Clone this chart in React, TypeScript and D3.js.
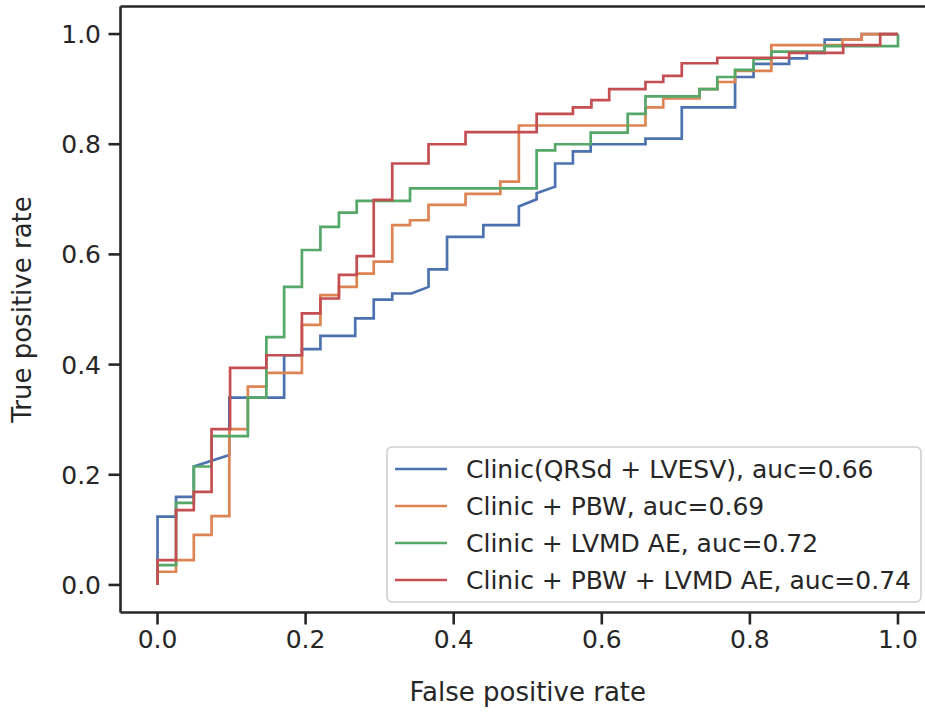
import React from "react";
import * as d3 from "d3";

const W = 925;
const H = 713;

const seriesNames = [
  "Clinic(QRSd + LVESV), auc=0.66",
  "Clinic + PBW, auc=0.69",
  "Clinic + LVMD AE, auc=0.72",
  "Clinic + PBW + LVMD AE, auc=0.74",
];
const seriesColors = ["#4C72B0", "#DD8452", "#55A868", "#C44E52"];

const clinicRoc: [number, number][] = [
  [0, 0], [0, 0.124], [0.025, 0.124], [0.025, 0.16], [0.049, 0.16], [0.049, 0.215],
  [0.097, 0.236], [0.097, 0.34], [0.171, 0.34], [0.171, 0.417], [0.195, 0.417],
  [0.195, 0.428], [0.22, 0.428], [0.22, 0.452], [0.267, 0.452], [0.267, 0.484],
  [0.292, 0.484], [0.292, 0.518], [0.317, 0.518], [0.317, 0.529], [0.343, 0.529],
  [0.366, 0.541], [0.366, 0.573], [0.391, 0.573], [0.391, 0.632], [0.44, 0.632],
  [0.44, 0.653], [0.488, 0.653], [0.488, 0.687], [0.512, 0.7], [0.512, 0.711],
  [0.537, 0.723], [0.537, 0.765], [0.561, 0.765], [0.561, 0.787], [0.585, 0.787],
  [0.585, 0.8], [0.659, 0.8], [0.659, 0.81], [0.708, 0.81], [0.708, 0.867],
  [0.78, 0.867], [0.78, 0.922], [0.805, 0.922], [0.805, 0.946], [0.853, 0.946],
  [0.853, 0.956], [0.877, 0.956], [0.877, 0.966], [0.901, 0.966], [0.901, 0.99],
  [0.951, 0.99], [0.951, 1.0], [1, 1],
];

const pbwRoc: [number, number][] = [
  [0, 0], [0, 0.024], [0.025, 0.024], [0.025, 0.045], [0.049, 0.045], [0.049, 0.091],
  [0.073, 0.091], [0.073, 0.125], [0.097, 0.125], [0.097, 0.283], [0.122, 0.283],
  [0.122, 0.36], [0.147, 0.36], [0.147, 0.385], [0.195, 0.385], [0.195, 0.472],
  [0.22, 0.472], [0.22, 0.526], [0.245, 0.526], [0.245, 0.541], [0.269, 0.541],
  [0.269, 0.565], [0.292, 0.565], [0.292, 0.587], [0.317, 0.587], [0.317, 0.653],
  [0.341, 0.653], [0.341, 0.662], [0.366, 0.662], [0.366, 0.69], [0.416, 0.69],
  [0.416, 0.71], [0.463, 0.71], [0.463, 0.732], [0.488, 0.732], [0.488, 0.834],
  [0.659, 0.834], [0.659, 0.867], [0.683, 0.867], [0.683, 0.883], [0.732, 0.883],
  [0.732, 0.9], [0.756, 0.9], [0.756, 0.913], [0.78, 0.913], [0.78, 0.933],
  [0.829, 0.933], [0.829, 0.98], [0.925, 0.98], [0.925, 0.99], [0.951, 0.99],
  [0.951, 1.0], [1, 1],
];

const lvmdRoc: [number, number][] = [
  [0, 0], [0, 0.036], [0.025, 0.036], [0.025, 0.149], [0.049, 0.149], [0.049, 0.215],
  [0.073, 0.215], [0.073, 0.27], [0.122, 0.27], [0.122, 0.34], [0.147, 0.34],
  [0.147, 0.45], [0.171, 0.45], [0.171, 0.541], [0.195, 0.541], [0.195, 0.608],
  [0.22, 0.608], [0.22, 0.65], [0.245, 0.65], [0.245, 0.676], [0.269, 0.676],
  [0.269, 0.697], [0.341, 0.697], [0.341, 0.72], [0.512, 0.72], [0.512, 0.789],
  [0.537, 0.789], [0.537, 0.8], [0.585, 0.8], [0.585, 0.821], [0.635, 0.821],
  [0.635, 0.855], [0.659, 0.855], [0.659, 0.887], [0.732, 0.887], [0.732, 0.9],
  [0.756, 0.9], [0.756, 0.922], [0.78, 0.922], [0.78, 0.935], [0.805, 0.935],
  [0.805, 0.955], [0.829, 0.955], [0.829, 0.968], [0.901, 0.968], [0.901, 0.978],
  [1, 0.978], [1, 1],
];

const pbwLvmdRoc: [number, number][] = [
  [0, 0], [0, 0.045], [0.025, 0.045], [0.025, 0.136], [0.049, 0.136], [0.049, 0.169],
  [0.073, 0.169], [0.073, 0.283], [0.098, 0.283], [0.098, 0.394], [0.147, 0.394],
  [0.147, 0.417], [0.195, 0.417], [0.195, 0.493], [0.22, 0.493], [0.22, 0.52],
  [0.245, 0.52], [0.245, 0.563], [0.269, 0.563], [0.269, 0.597], [0.292, 0.597],
  [0.292, 0.699], [0.317, 0.699], [0.317, 0.765], [0.366, 0.765], [0.366, 0.8],
  [0.416, 0.8], [0.416, 0.822], [0.512, 0.822], [0.512, 0.855], [0.561, 0.855],
  [0.561, 0.867], [0.586, 0.867], [0.586, 0.88], [0.61, 0.88], [0.61, 0.9],
  [0.659, 0.9], [0.659, 0.913], [0.683, 0.913], [0.683, 0.924], [0.708, 0.924],
  [0.708, 0.947], [0.756, 0.947], [0.756, 0.957], [0.853, 0.957], [0.853, 0.966],
  [0.926, 0.966], [0.926, 0.98], [0.976, 0.98], [0.976, 1.0], [1, 1],
];

const allSeries = [clinicRoc, pbwRoc, lvmdRoc, pbwLvmdRoc];
const tickValues = [0, 0.2, 0.4, 0.6, 0.8, 1.0];

const INK = "#262626";
const FONT = "'DejaVu Sans', sans-serif";

export default function App() {
  const x = d3.scaleLinear().domain([-0.05, 1.05]).range([120.5, 935]);
  const y = d3.scaleLinear().domain([-0.05, 1.05]).range([612.5, 6.5]);
  const line = d3
    .line<[number, number]>()
    .x((d) => x(d[0]))
    .y((d) => y(d[1]));

  const left = x(-0.05);
  const right = x(1.05);
  const top = y(1.05);
  const bottom = y(-0.05);

  const legX = 387;
  const legY = 447;
  const legW = 534;
  const legH = 155;
  const rowY = [469, 506, 543, 580];

  return (
    <svg
      width={W}
      height={H}
      style={{ position: "absolute", left: 0, top: 0, background: "#fff" }}
      fontFamily={FONT}
    >
      <rect x={0} y={0} width={W} height={H} fill="#fff" />
      <defs>
        <clipPath id="plotclip">
          <rect x={left} y={top} width={right - left} height={bottom - top} />
        </clipPath>
      </defs>
      <g clipPath="url(#plotclip)">
        {allSeries.map((s, i) => (
          <path
            key={i}
            d={line(s) || ""}
            fill="none"
            stroke={seriesColors[i]}
            strokeWidth={2.7}
            strokeLinejoin="miter"
            strokeLinecap="butt"
          />
        ))}
      </g>
      {/* spines */}
      <line x1={left} x2={left} y1={top} y2={bottom} stroke={INK} strokeWidth={2.6} />
      <line x1={left} x2={right} y1={bottom} y2={bottom} stroke={INK} strokeWidth={2.6} />
      <line x1={left} x2={right} y1={top} y2={top} stroke={INK} strokeWidth={2.6} />
      <line x1={right} x2={right} y1={top} y2={bottom} stroke={INK} strokeWidth={2.6} />
      {/* x ticks */}
      {tickValues.map((t) => (
        <g key={"x" + t}>
          <line x1={x(t)} x2={x(t)} y1={bottom} y2={bottom + 12} stroke={INK} strokeWidth={2.6} />
          <text x={x(t)} y={648} textAnchor="middle" fontSize={25} fill={INK}>
            {t.toFixed(1)}
          </text>
        </g>
      ))}
      {/* y ticks */}
      {tickValues.map((t) => (
        <g key={"y" + t}>
          <line x1={left - 12} x2={left} y1={y(t)} y2={y(t)} stroke={INK} strokeWidth={2.6} />
          <text x={101} y={y(t)} dy="0.36em" textAnchor="end" fontSize={25} fill={INK}>
            {t.toFixed(1)}
          </text>
        </g>
      ))}
      <text x={(left + right) / 2} y={701} textAnchor="middle" fontSize={26} fill={INK}>
        False positive rate
      </text>
      <text
        transform={`translate(31, ${(top + bottom) / 2}) rotate(-90)`}
        textAnchor="middle"
        fontSize={26}
        fill={INK}
      >
        True positive rate
      </text>
      {/* legend */}
      <rect
        x={legX}
        y={legY}
        width={legW}
        height={legH}
        rx={5}
        fill="#fff"
        fillOpacity={0.8}
        stroke="#d0d0d0"
        strokeWidth={1.6}
      />
      {seriesNames.map((name, i) => (
        <g key={name}>
          <line
            x1={395}
            x2={447}
            y1={rowY[i]}
            y2={rowY[i]}
            stroke={seriesColors[i]}
            strokeWidth={2.7}
          />
          <text x={466} y={rowY[i]} dy="0.36em" fontSize={25} fill={INK}>
            {name}
          </text>
        </g>
      ))}
    </svg>
  );
}
